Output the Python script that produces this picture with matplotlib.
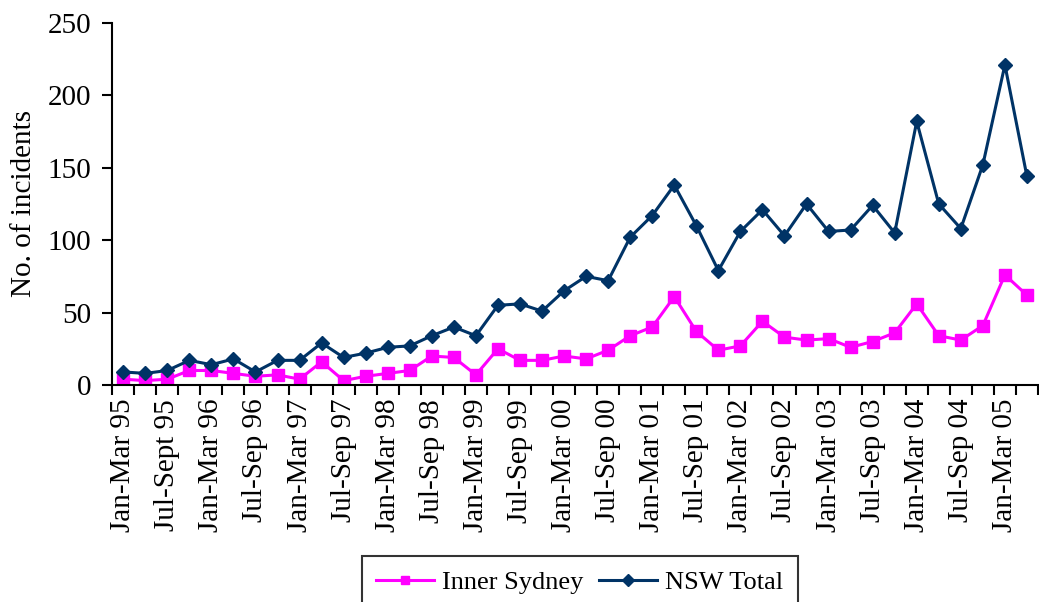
import matplotlib.pyplot as plt
import numpy as np

plt.rcParams['font.family'] = ['Liberation Serif', 'DejaVu Serif']

# quarterly periods, Jan-Mar 95 .. Apr-Jun 05
quarters = []
for yy in ['95', '96', '97', '98', '99', '00', '01', '02', '03', '04', '05']:
    for q in ['Jan-Mar', 'Apr-Jun', 'Jul-Sep', 'Oct-Dec']:
        quarters.append(q + ' ' + yy)
quarters = quarters[:42]
quarters[2] = 'Jul-Sept 95'

inner_sydney = [4, 3, 4, 10, 10, 8, 6, 7, 4, 16, 3, 6, 8, 10, 20, 19, 7, 25, 17, 17,
                20, 18, 24, 34, 40, 61, 37, 24, 27, 44, 33, 31, 32, 26, 30, 36, 56, 34, 31, 41,
                76, 62]
nsw_total = [9, 8, 10, 17, 14, 18, 9, 17, 17, 29, 19, 22, 26, 27, 34, 40, 34, 55, 56, 51,
             65, 75, 72, 102, 117, 138, 110, 79, 106, 121, 103, 125, 106, 107, 124, 105, 182, 125, 108, 152,
             221, 144]

x = np.arange(len(quarters))

fig = plt.figure(figsize=(10.39, 6.02), dpi=100)
ax = fig.add_axes([0.108, 0.3605, 0.891, 0.6015])

ax.plot(x, inner_sydney, color='#FF00FF', lw=2.2, marker='s', ms=8, label='Inner Sydney')
ax.plot(x, nsw_total, color='#003366', lw=2.2, marker='D', ms=7, label='NSW Total')

ax.set_xlim(-0.5, len(quarters) - 0.5)
ax.set_ylim(0, 250)
ax.set_yticks([0, 50, 100, 150, 200, 250])
ax.set_xticks(x[::2])
ax.set_xticklabels(quarters[::2], rotation=90)
ax.set_xticks(np.arange(-0.5, len(quarters), 1), minor=True)
ax.tick_params(axis='x', which='major', length=0, labelsize=21, pad=10)
ax.tick_params(axis='x', which='minor', length=7, width=1.5, direction='out')
ax.tick_params(axis='y', length=7, width=1.5, labelsize=21, pad=8)
ax.set_ylabel('No. of incidents', fontsize=21, labelpad=8)

for s in ['top', 'right']:
    ax.spines[s].set_visible(False)
for s in ['left', 'bottom']:
    ax.spines[s].set_linewidth(1.5)

# legend box runs off the bottom edge, like the source
leg = fig.legend(loc='upper center', bbox_to_anchor=(0.558, 0.098), ncol=2, fontsize=19,
                 frameon=True, fancybox=False, edgecolor='black', handlelength=2.2,
                 columnspacing=0.6, handletextpad=0.3, borderpad=0.55)
leg.get_frame().set_linewidth(1.5)
for h in leg.legend_handles:
    h.set_markersize(6)

plt.savefig('out.png', dpi=100)
